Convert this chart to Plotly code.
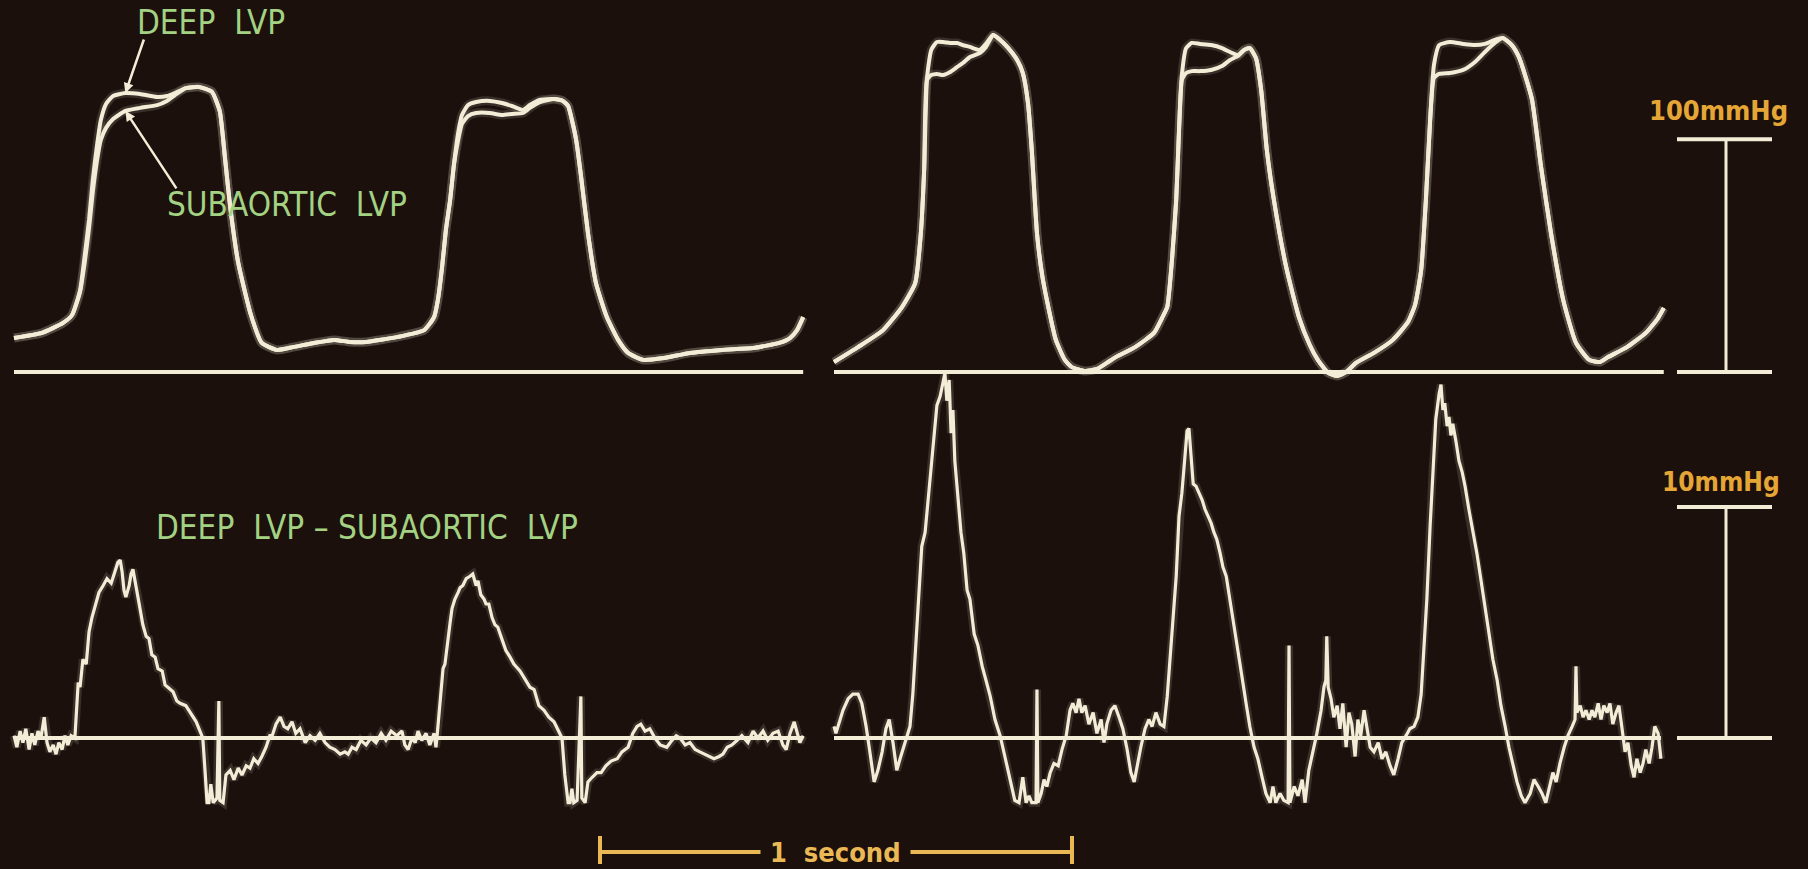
import plotly.graph_objects as go

# ---------------- DATA ----------------
# Left recording, top: left-ventricular pressures (time in ms, pressure in mmHg)
T_LEFT_TOP = [0, 59, 104, 123, 140, 150, 159, 167, 176, 184, 195, 210, 236, 267, 303, 324, 341, 364, 392, 419,
              436, 447, 458, 475, 502, 525, 557, 591, 636, 678, 712, 746, 811, 869, 890, 898, 907, 915, 924, 932,
              941, 949, 962, 979, 1008, 1034, 1055, 1078, 1093, 1114, 1144, 1163, 1174, 1182, 1191, 1201, 1216, 1233, 1256, 1280,
              1301, 1333, 1377, 1432, 1500, 1566, 1621, 1644, 1659, 1672]
DEEP_LEFT = [14.6, 16.8, 21.1, 24.5, 35.2, 50.3, 65.3, 82.5, 97.6, 108.3, 115.2, 118.6, 119.9, 119.5, 118.2, 118.6, 119.9, 122.0, 122.5, 120.5,
             112.0, 92.0, 71.0, 47.0, 24.5, 12.5, 9.5, 10.7, 12.5, 13.8, 12.9, 12.9, 15.0, 18.0, 23.6, 30.9, 45.1, 61.0, 73.9, 89.0,
             102.7, 110.4, 114.7, 116.0, 116.5, 115.6, 114.3, 112.6, 114.7, 116.9, 117.3, 116.5, 114.3, 108.3, 99.7, 84.7, 59.7, 38.2, 23.6, 13.8,
             8.2, 5.2, 6.0, 8.2, 9.5, 10.3, 12.5, 14.6, 18.0, 23.6]
SUB_LEFT = [14.6, 16.8, 21.1, 24.5, 34.4, 47.3, 61.9, 77.4, 91.1, 99.7, 104.9, 108.7, 112.2, 113.5, 114.7, 116.5, 119.0, 122.0, 122.5, 120.5,
            112.0, 92.0, 71.0, 47.0, 24.5, 12.5, 9.5, 10.7, 12.5, 13.8, 12.9, 12.9, 15.0, 18.0, 23.6, 30.9, 45.1, 61.0, 73.9, 89.0,
            99.7, 106.6, 110.0, 111.3, 111.3, 110.4, 110.9, 111.3, 113.5, 116.0, 117.3, 116.5, 114.3, 108.3, 99.7, 84.7, 59.7, 38.2, 23.6, 13.8,
            8.2, 5.2, 6.0, 8.2, 9.5, 10.3, 12.5, 14.6, 18.0, 23.6]

# Right recording, top
T_RIGHT_TOP = [0, 51, 104, 144, 172, 184, 191, 197, 206, 218, 231, 246, 261, 273, 288, 309, 322, 337, 352, 367,
               388, 400, 411, 419, 430, 441, 451, 470, 489, 504, 532, 557, 578, 597, 638, 678, 695, 706, 716, 725,
               731, 737, 746, 758, 775, 799, 822, 839, 856, 869, 881, 894, 905, 917, 932, 958, 985, 1008, 1025, 1047,
               1066, 1085, 1106, 1144, 1184, 1216, 1231, 1244, 1254, 1263, 1271, 1282, 1305, 1333, 1358, 1379, 1400, 1417, 1436, 1451,
               1466, 1479, 1498, 1519, 1545, 1572, 1600, 1623, 1640, 1680, 1720, 1746, 1758]
DEEP_RIGHT = [4.3, 10.7, 18.0, 27.9, 38.2, 59.7, 86.8, 126.3, 138.4, 141.8, 141.8, 141.4, 141.4, 140.5, 139.7, 138.4, 141.0, 144.8, 142.7, 139.7,
              134.1, 128.5, 115.6, 95.4, 59.7, 41.7, 30.9, 13.8, 5.2, 2.1, 0.4, 1.3, 3.9, 6.4, 10.7, 16.8, 23.2, 27.9, 48.1, 73.9,
              104.0, 127.6, 139.2, 141.4, 141.0, 140.5, 139.2, 137.5, 136.2, 138.4, 139.2, 134.9, 121.2, 95.4, 73.9, 45.1, 23.6, 11.6, 5.2, -0.4,
              -1.7, 0.0, 3.9, 8.2, 13.8, 21.5, 28.8, 43.8, 73.9, 108.3, 131.9, 140.5, 141.8, 141.0, 140.5, 141.0, 142.7, 143.5, 140.5, 135.4,
              126.3, 116.9, 88.1, 59.7, 30.9, 12.5, 5.2, 4.3, 6.4, 10.7, 16.8, 23.2, 27.5]
SUB_RIGHT = [4.3, 10.7, 18.0, 27.9, 38.2, 59.7, 86.8, 125.5, 127.6, 128.1, 127.6, 128.9, 131.1, 132.8, 135.4, 137.1, 139.7, 144.8, 142.7, 139.7,
             134.1, 128.5, 115.6, 95.4, 59.7, 41.7, 30.9, 13.8, 5.2, 2.1, 0.4, 1.3, 3.9, 6.4, 10.7, 16.8, 23.2, 27.9, 48.1, 73.9,
             104.0, 125.5, 128.5, 129.3, 129.3, 129.8, 131.5, 134.1, 135.8, 138.4, 139.2, 134.9, 121.2, 95.4, 73.9, 45.1, 23.6, 11.6, 5.2, -0.4,
             -1.7, 0.0, 3.9, 8.2, 13.8, 21.5, 28.8, 43.8, 73.9, 108.3, 126.3, 128.1, 128.5, 129.8, 133.2, 137.5, 141.4, 143.5, 140.5, 135.4,
             126.3, 116.9, 88.1, 59.7, 30.9, 12.5, 5.2, 4.3, 6.4, 10.7, 16.8, 23.2, 27.5]

# Left recording, bottom: deep LVP - subaortic LVP (mmHg)
T_LEFT_DIFF = [0, 6, 13, 19, 25, 32, 38, 44, 51, 57, 64, 70, 76, 83, 89, 95, 102, 108, 114, 121,
               129, 136, 140, 146, 153, 159, 165, 172, 180, 189, 197, 206, 214, 220, 225, 229, 233, 237, 244, 248,
               252, 256, 261, 267, 273, 280, 286, 292, 299, 305, 314, 320, 326, 337, 345, 352, 364, 373, 386, 394,
               400, 405, 409, 413, 417, 422, 430, 434, 436, 443, 449, 458, 466, 475, 483, 492, 500, 508, 517, 525,
               534, 542, 547, 555, 564, 572, 580, 589, 597, 606, 617, 627, 638, 648, 659, 669, 680, 691, 701, 708,
               716, 725, 735, 746, 756, 767, 778, 788, 799, 811, 822, 828, 835, 843, 850, 856, 864, 873, 881, 890,
               894, 896, 903, 909, 913, 919, 924, 928, 934, 941, 945, 951, 958, 966, 972, 979, 983, 989, 996, 1000,
               1006, 1013, 1019, 1025, 1034, 1042, 1051, 1059, 1072, 1083, 1093, 1102, 1112, 1123, 1133, 1144, 1153, 1161, 1167, 1174,
               1178, 1182, 1186, 1193, 1201, 1203, 1210, 1216, 1225, 1235, 1244, 1254, 1265, 1278, 1288, 1301, 1311, 1320, 1328, 1337,
               1347, 1358, 1369, 1383, 1394, 1403, 1411, 1422, 1432, 1443, 1453, 1464, 1475, 1483, 1494, 1502, 1511, 1521, 1532, 1542,
               1555, 1566, 1576, 1587, 1597, 1608, 1619, 1629, 1636, 1644, 1653, 1659, 1665, 1672]
D_LEFT_DIFF = [0.1, -0.4, 0.3, -0.2, 0.4, -0.5, 0.2, -0.3, 0.3, 0.0, 0.9, -0.2, -0.6, -0.3, -0.7, -0.2, -0.5, 0.1, -0.3, 0.1,
               0.0, 2.4, 2.2, 3.4, 3.2, 4.6, 5.2, 5.7, 6.3, 6.6, 6.9, 6.7, 7.2, 7.6, 7.7, 7.2, 6.4, 6.1, 6.6, 7.1,
               7.3, 6.8, 6.3, 5.6, 4.9, 4.4, 4.3, 3.6, 3.5, 3.0, 2.9, 2.3, 2.2, 2.0, 1.6, 1.5, 1.4, 1.1, 0.7, 0.3,
               0.0, -1.5, -2.8, -2.8, -2.0, -2.8, -2.6, 1.6, -2.7, -2.8, -1.6, -1.4, -1.8, -1.3, -1.6, -1.2, -1.3, -0.9, -1.1, -0.8,
               -0.4, 0.1, 0.1, 0.6, 0.9, 0.5, 0.4, 0.7, 0.2, 0.4, -0.2, 0.1, -0.1, 0.2, -0.2, -0.4, -0.5, -0.7, -0.6, -0.7,
               -0.4, -0.5, -0.1, -0.3, 0.0, -0.2, 0.2, -0.1, 0.3, 0.1, 0.3, -0.3, -0.5, 0.0, -0.2, 0.3, -0.1, 0.2, -0.3, 0.2,
               -0.4, 0.0, 1.5, 3.0, 3.2, 4.3, 5.0, 5.6, 6.0, 6.3, 6.5, 6.6, 6.9, 7.0, 7.1, 6.6, 6.8, 6.2, 6.0, 5.8,
               5.8, 5.2, 4.9, 4.8, 4.3, 3.8, 3.5, 3.2, 2.9, 2.5, 2.2, 2.1, 1.4, 1.2, 0.9, 0.7, 0.3, 0.0, -1.6, -2.8,
               -2.8, -2.2, -2.8, -2.7, 1.8, -2.6, -2.8, -1.9, -1.7, -1.5, -1.5, -1.2, -1.0, -0.9, -0.6, -0.4, 0.2, 0.5, 0.6, 0.3,
               0.4, 0.0, -0.3, -0.4, -0.1, 0.1, 0.0, -0.3, -0.2, -0.5, -0.6, -0.7, -0.8, -0.9, -0.8, -0.7, -0.4, -0.3, -0.1, 0.1,
               -0.2, 0.3, 0.0, 0.3, -0.1, 0.2, 0.3, -0.3, -0.5, 0.2, 0.7, 0.3, -0.2, 0.1]

# Right recording, bottom
T_RIGHT_DIFF = [0, 4, 19, 30, 40, 51, 59, 68, 76, 85, 93, 102, 110, 117, 125, 133, 140, 150, 161, 167,
                174, 180, 186, 193, 199, 206, 212, 218, 225, 231, 235, 239, 244, 248, 252, 256, 263, 269, 275, 282,
                288, 297, 305, 314, 322, 331, 341, 352, 362, 373, 383, 392, 400, 407, 413, 419, 428, 430, 432, 439,
                445, 451, 458, 466, 475, 483, 492, 500, 506, 513, 519, 525, 532, 540, 549, 557, 566, 572, 578, 587,
                595, 604, 612, 621, 629, 636, 642, 650, 659, 667, 674, 682, 691, 699, 706, 712, 718, 725, 731, 737,
                744, 748, 752, 756, 761, 767, 773, 780, 786, 792, 799, 805, 811, 818, 824, 831, 839, 847, 856, 864,
                873, 881, 890, 898, 907, 915, 924, 930, 936, 945, 953, 962, 964, 966, 975, 983, 992, 998, 1006, 1015,
                1023, 1032, 1038, 1042, 1044, 1047, 1053, 1059, 1066, 1072, 1078, 1085, 1091, 1097, 1104, 1110, 1116, 1123, 1129, 1136,
                1144, 1153, 1161, 1169, 1178, 1186, 1195, 1203, 1212, 1220, 1229, 1237, 1244, 1250, 1256, 1263, 1269, 1275, 1282, 1286,
                1290, 1294, 1299, 1303, 1307, 1311, 1318, 1324, 1331, 1337, 1345, 1354, 1362, 1371, 1379, 1388, 1396, 1405, 1413, 1422,
                1430, 1439, 1447, 1456, 1464, 1475, 1483, 1492, 1500, 1508, 1517, 1523, 1530, 1538, 1547, 1555, 1564, 1570, 1572, 1574,
                1581, 1587, 1593, 1600, 1606, 1612, 1619, 1625, 1631, 1638, 1644, 1650, 1657, 1663, 1669, 1676, 1682, 1689, 1695, 1701,
                1708, 1714, 1720, 1727, 1733, 1739, 1746, 1752]
D_RIGHT_DIFF = [0.5, 0.2, 1.2, 1.7, 1.9, 1.9, 1.5, 0.5, -0.6, -1.9, -1.4, -0.6, 0.4, 0.8, -0.2, -1.4, -0.9, -0.2, 0.5, 1.9,
                4.1, 6.3, 8.3, 8.9, 10.3, 11.6, 13.2, 14.4, 14.8, 15.5, 15.8, 14.6, 15.5, 13.2, 14.2, 12.0, 10.3, 8.9, 8.0, 6.4,
                6.0, 4.5, 4.0, 3.1, 2.5, 1.8, 0.8, 0.1, -0.8, -1.8, -2.7, -2.8, -1.7, -2.8, -2.5, -2.8, -2.8, 2.1, -2.8, -2.4,
                -1.8, -2.1, -1.5, -1.1, -1.2, -0.5, 0.1, 1.2, 1.5, 1.1, 1.7, 1.1, 1.4, 0.6, 1.1, 0.2, 0.8, -0.2, 0.6, 1.2,
                1.4, 0.9, 0.4, -0.5, -1.5, -1.9, -1.2, -0.4, 0.4, 0.8, 0.5, 1.1, 0.6, 0.5, 1.8, 3.4, 4.8, 7.0, 9.6, 10.6,
                12.3, 13.3, 13.4, 12.3, 11.0, 10.9, 10.6, 10.3, 9.9, 9.6, 9.3, 8.9, 8.6, 8.0, 7.4, 7.0, 6.0, 4.8, 3.8, 2.7,
                1.5, 0.5, -0.4, -0.9, -1.7, -2.4, -2.8, -2.1, -2.8, -2.4, -2.7, -2.8, 4.0, -2.8, -2.1, -2.5, -1.8, -2.8, -1.4, -0.6,
                0.2, 1.2, 2.2, 2.5, 4.4, 2.2, 1.7, 0.9, 1.4, 0.4, 1.5, -0.4, 1.1, 0.6, -0.8, 0.8, 0.1, 1.2, 0.5, -0.4,
                -0.6, -0.2, -0.9, -0.6, -1.2, -1.6, -0.9, -0.2, 0.1, 0.4, 0.5, 0.9, 1.9, 3.8, 6.0, 9.2, 11.8, 13.8, 14.9, 15.3,
                14.2, 14.5, 13.5, 13.9, 13.1, 13.6, 12.8, 12.0, 11.5, 10.9, 9.9, 8.9, 8.0, 6.8, 5.7, 4.5, 3.4, 2.5, 1.4, 0.5,
                -0.4, -1.2, -1.9, -2.5, -2.8, -2.4, -1.8, -2.1, -2.4, -2.8, -2.1, -1.5, -1.9, -1.1, -0.4, 0.1, 0.5, 0.8, 3.1, 1.1,
                1.4, 0.9, 1.2, 0.8, 1.2, 0.9, 1.5, 0.8, 1.4, 1.1, 1.5, 0.6, 1.1, 1.4, 0.5, -0.6, -0.2, -1.2, -1.7, -0.9,
                -1.5, -1.1, -0.5, -1.1, -0.4, 0.5, 0.2, -0.9]

# Calibration marks
SCALE_PRESSURE_MMHG = 100
SCALE_DIFF_MMHG = 10
SCALE_TIME_MS = 1000
LABEL_DEEP = "DEEP\u00a0\u00a0LVP"
LABEL_SUB = "SUBAORTIC\u00a0\u00a0LVP"
LABEL_DIFF = "DEEP\u00a0\u00a0LVP\u00a0\u2013\u00a0SUBAORTIC\u00a0\u00a0LVP"
LABEL_P = f"{SCALE_PRESSURE_MMHG}mmHg"
LABEL_D = f"{SCALE_DIFF_MMHG}mmHg"
LABEL_T = "1\u00a0\u00a0second"

# ---------------- STYLE ----------------
BG = "#1b100c"
TRACE = "#f3ecd6"
GREEN = "#a3d283"
ORANGE = "#e6a636"
YELLOW = "#eab955"
FONT = "DejaVu Sans Condensed, Liberation Sans Narrow, DejaVu Sans, sans-serif"
W, H = 1808, 869

fig = go.Figure()

def add_line(x, y, xa, ya, shape="linear", width=4.0):
    # soft phosphor glow underneath, then the crisp trace
    fig.add_trace(go.Scatter(x=x, y=y, xaxis=xa, yaxis=ya, mode="lines",
                             line=dict(color="rgba(243,236,214,0.14)", width=width + 5, shape=shape, smoothing=0.5),
                             hoverinfo="skip", showlegend=False))
    fig.add_trace(go.Scatter(x=x, y=y, xaxis=xa, yaxis=ya, mode="lines",
                             line=dict(color=TRACE, width=width, shape=shape, smoothing=0.5),
                             hoverinfo="skip", showlegend=False))

add_line(T_LEFT_TOP, SUB_LEFT, "x", "y", "spline")
add_line(T_LEFT_TOP, DEEP_LEFT, "x", "y", "spline")
add_line(T_RIGHT_TOP, SUB_RIGHT, "x2", "y", "spline")
add_line(T_RIGHT_TOP, DEEP_RIGHT, "x2", "y", "spline")
add_line(T_LEFT_DIFF, D_LEFT_DIFF, "x", "y2", "linear", 3.2)
add_line(T_RIGHT_DIFF, D_RIGHT_DIFF, "x2", "y2", "linear", 3.2)

shapes = []
# zero baselines of each record
for xr, yr, tt in [("x", "y", T_LEFT_TOP), ("x2", "y", T_RIGHT_TOP),
                   ("x", "y2", T_LEFT_DIFF), ("x2", "y2", T_RIGHT_DIFF)]:
    shapes.append(dict(type="line", xref=xr, yref=yr, x0=tt[0], x1=tt[-1], y0=0, y1=0,
                       line=dict(color=TRACE, width=4)))

# pressure calibration bars (right side)
BX0, BX1, BXM = 1677 / W, 1772 / W, 1726 / W
for yr, val in [("y", SCALE_PRESSURE_MMHG), ("y2", SCALE_DIFF_MMHG)]:
    shapes.append(dict(type="line", xref="paper", yref=yr, x0=BX0, x1=BX1, y0=0, y1=0, line=dict(color=TRACE, width=4)))
    shapes.append(dict(type="line", xref="paper", yref=yr, x0=BX0, x1=BX1, y0=val, y1=val, line=dict(color=TRACE, width=4)))
    shapes.append(dict(type="line", xref="paper", yref=yr, x0=BXM, x1=BXM, y0=0, y1=val, line=dict(color=TRACE, width=3)))

# time calibration bar (1 second), on the left record's time axis
T0 = 1241.5
TY = 1 - 852 / H
shapes.append(dict(type="line", xref="x", yref="paper", x0=T0, x1=T0 + SCALE_TIME_MS, y0=TY, y1=TY,
                   line=dict(color=YELLOW, width=4)))
for tx in (T0, T0 + SCALE_TIME_MS):
    shapes.append(dict(type="line", xref="x", yref="paper", x0=tx, x1=tx, y0=1 - 864 / H, y1=1 - 836 / H,
                       line=dict(color=YELLOW, width=4)))

ctr = dict(xanchor="center", yanchor="middle", showarrow=False)
annotations = [
    dict(text=LABEL_DEEP, xref="paper", yref="paper", x=211 / W, y=1 - 23 / H,
         font=dict(family=FONT, size=33, color=GREEN), **ctr),
    dict(text=LABEL_SUB, xref="paper", yref="paper", x=287 / W, y=1 - 205 / H,
         font=dict(family=FONT, size=33, color=GREEN), **ctr),
    dict(text=LABEL_DIFF, xref="paper", yref="paper", x=367 / W, y=1 - 527 / H,
         font=dict(family=FONT, size=33, color=GREEN), **ctr),
    # pointer arrows from labels to the two pressure traces
    dict(text="", xref="x", yref="y", x=T_LEFT_TOP[12], y=DEEP_LEFT[12], ax=19, ay=-55, showarrow=True,
         arrowhead=2, arrowsize=0.8, arrowwidth=2.5, arrowcolor=TRACE),
    dict(text="", xref="x", yref="y", x=T_LEFT_TOP[12], y=SUB_LEFT[12], ax=52, ay=79, showarrow=True,
         arrowhead=2, arrowsize=0.8, arrowwidth=2.5, arrowcolor=TRACE),
    dict(text=LABEL_P, xref="paper", yref="y", x=1718 / W, y=SCALE_PRESSURE_MMHG, yshift=29,
         font=dict(family=FONT, size=27, color=ORANGE, weight="bold"), **ctr),
    dict(text=LABEL_D, xref="paper", yref="y2", x=1721 / W, y=SCALE_DIFF_MMHG, yshift=25,
         font=dict(family=FONT, size=26, color=ORANGE, weight="bold"), **ctr),
    dict(text=LABEL_T, xref="x", yref="paper", x=T0 + SCALE_TIME_MS / 2, y=TY,
         bgcolor=BG, borderpad=9, font=dict(family=FONT, size=27, color=YELLOW, weight="bold"), **ctr),
]

ax_common = dict(visible=False, showgrid=False, zeroline=False, fixedrange=True)
fig.update_layout(
    width=W, height=H, autosize=False,
    margin=dict(l=0, r=0, t=0, b=0, pad=0),
    paper_bgcolor=BG, plot_bgcolor=BG,
    xaxis=dict(range=[-14 / 0.472, (W - 14) / 0.472], domain=[0, 1], **ax_common),
    xaxis2=dict(range=[-834 / 0.472, (W - 834) / 0.472], overlaying="x", **ax_common),
    yaxis=dict(range=[-(H - 372) / 2.327, 372 / 2.327], domain=[0, 1], **ax_common),
    yaxis2=dict(range=[-(H - 738) / 23.1, 738 / 23.1], overlaying="y", **ax_common),
    shapes=shapes,
    annotations=annotations,
    showlegend=False,
)

fig.write_html("out.html", config={"displayModeBar": False},
               post_script="document.body.style.margin='0';document.body.style.background='" + BG + "';document.body.style.overflow='hidden';")
